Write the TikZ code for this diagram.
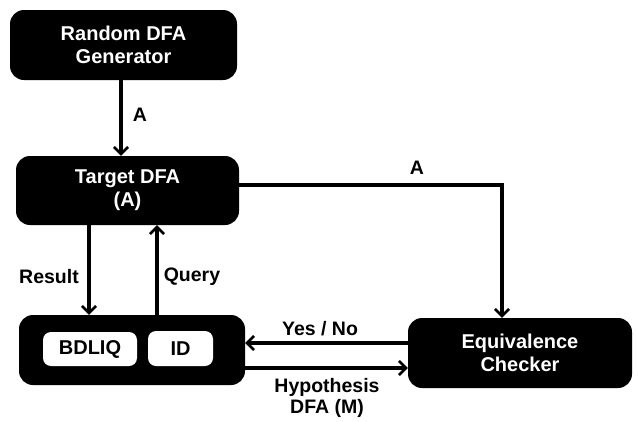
\documentclass[tikz,border=0pt]{standalone}
\usepackage{fontspec}
\setmainfont{Liberation Sans}
\usetikzlibrary{arrows.meta}
\begin{document}
\begin{tikzpicture}[x=1pt,y=-1pt,
  blk/.style={fill=black,text=white,rounded corners=14pt,align=center,inner sep=0pt,font=\fontsize{20}{23}\selectfont\bfseries},
  wbox/.style={fill=white,text=black,rounded corners=8pt,inner sep=0pt,font=\fontsize{20}{23}\selectfont\bfseries},
  lbl/.style={text=black,inner sep=0pt,align=center,font=\fontsize{19.5}{21}\selectfont\bfseries},
  arr/.style={line width=3.2pt,-{Straight Barb[length=7pt,width=14pt,line width=2.6pt]}},
  ln/.style={line width=3.2pt}]
\useasboundingbox (0,0) rectangle (638,421);
\node[blk,minimum width=227pt,minimum height=70pt] (gen) at (123.5,45) {Random DFA\\Generator};
\node[blk,minimum width=223pt,minimum height=69pt] (tgt) at (127.5,190.5) {Target DFA\\(A)};
\node[blk,minimum width=226pt,minimum height=70pt] (learn) at (132,350) {};
\node[wbox,minimum width=94pt,minimum height=34pt] (bd) at (90,349) {BDLIQ};
\node[wbox,minimum width=65pt,minimum height=35pt] (id) at (180.5,348.5) {ID};
\node[blk,minimum width=224pt,minimum height=70pt] (ec) at (520,353) {Equivalence\\Checker};
\coordinate (q) at (157,0);
\coordinate (r) at (89,0);
\coordinate (c) at (502,185);
\coordinate (yn) at (0,343);
\coordinate (hy) at (0,368);
\draw[arr] ([xshift=-2.5pt]gen.south) -- ([xshift=-2.5pt]gen.south |- tgt.north);
\draw[arr] (tgt.south -| r) -- (learn.north -| r);
\draw[arr] (learn.north -| q) -- (tgt.south -| q);
\draw[arr] (tgt.east |- c) -- (c) -- (c |- ec.north);
\draw[arr] (ec.west |- yn) -- (learn.east |- yn);
\draw[arr] (learn.east |- hy) -- (ec.west |- hy);
\node[lbl] (la1) at (140,115) {A};
\node[lbl] (lres) at (49,277) {Result};
\node[lbl] (lq) at (192,277) {Query};
\node[lbl] (la2) at (417,168) {A};
\node[lbl] (lyn) at (320,329) {Yes / No};
\node[lbl] (lhy) at (327,398) {Hypothesis\\DFA (M)};
\end{tikzpicture}
\end{document}
